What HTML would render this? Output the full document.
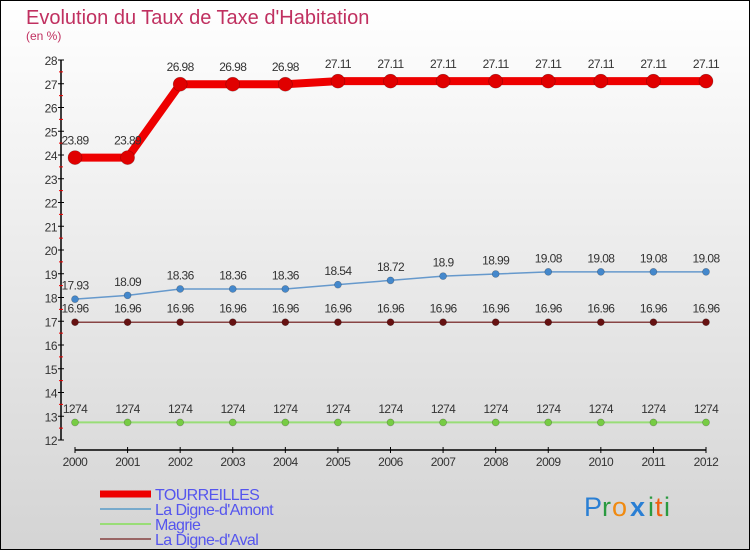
<!DOCTYPE html>
<html><head><meta charset="utf-8">
<style>
html,body{margin:0;padding:0;}
body{width:750px;height:550px;overflow:hidden;font-family:"Liberation Sans",sans-serif;}
</style></head>
<body>
<svg id="chart" width="750" height="550" xmlns="http://www.w3.org/2000/svg">
<defs>
<linearGradient id="bg" x1="0" y1="0" x2="0" y2="1">
<stop offset="0" stop-color="#ffffff"/><stop offset="1" stop-color="#d4d4d4"/>
</linearGradient>
</defs>
<rect x="0.5" y="0.5" width="749" height="549" fill="url(#bg)" stroke="#000"/>
<text x="26" y="24" font-size="20" fill="#c03060">Evolution du Taux de Taxe d'Habitation</text>
<text x="26" y="40" font-size="12" fill="#c03060">(en %)</text>
<g id="axes"></g>
<g id="series"></g>
<g id="legend"></g>
<g font-size="27" font-family="'Liberation Sans',sans-serif">
<text x="584" y="516" fill="#2a7fd4">P</text>
<text x="602" y="516" fill="#2a9a40">r</text>
<text x="612" y="516" fill="#f08a10">o</text>
<text x="630" y="516" fill="#2a7fd4" font-weight="bold">x</text>
<text x="648" y="516" fill="#2a9a40">i</text>
<text x="655" y="516" fill="#f06010">t</text>
<text x="664" y="516" fill="#2a9a40">i</text>
</g>
</svg>
<script>
const years = [2000,2001,2002,2003,2004,2005,2006,2007,2008,2009,2010,2011,2012];
const tourreilles = [23.89,23.89,26.98,26.98,26.98,27.11,27.11,27.11,27.11,27.11,27.11,27.11,27.11];
const digneAmont = [17.93,18.09,18.36,18.36,18.36,18.54,18.72,18.9,18.99,19.08,19.08,19.08,19.08];
const magrie = [12.74,12.74,12.74,12.74,12.74,12.74,12.74,12.74,12.74,12.74,12.74,12.74,12.74];
const digneAval = [16.96,16.96,16.96,16.96,16.96,16.96,16.96,16.96,16.96,16.96,16.96,16.96,16.96];
const yTicks = [12,13,14,15,16,17,18,19,20,21,22,23,24,25,26,27,28];
const seriesNames = ["TOURREILLES","La Digne-d'Amont","Magrie","La Digne-d'Aval"];

const NS="http://www.w3.org/2000/svg";
const yMin=12,yMax=28;
function x(i){return 75+i*(706-75)/(years.length-1);}
function y(v){return 440-(v-yMin)*(440-60)/(yMax-yMin);}
function mk(tag,attrs,parent){const e=document.createElementNS(NS,tag);for(const k in attrs)e.setAttribute(k,attrs[k]);parent.appendChild(e);return e;}
const axes=document.getElementById('axes'),series=document.getElementById('series'),legend=document.getElementById('legend');

let ya=mk('line',{x1:61,y1:60,x2:61,y2:440,stroke:'#000','stroke-width':1.5},axes);


yTicks.forEach(t=>{
  const yy=y(t);
  let l=mk('line',{x1:58,y1:yy,x2:64,y2:yy,stroke:'#000'},axes);
  
  
  let tx=mk('text',{x:57,y:yy+5,'text-anchor':'end','font-size':12,fill:'#333','letter-spacing':'-0.5'},axes);
  tx.textContent=t;
  
  
  if(t<yMax){let m=mk('line',{x1:59,y1:y(t+0.5),x2:63,y2:y(t+0.5),stroke:'#e00'},axes);
  
  }
});
let xa=mk('line',{x1:75,y1:450,x2:706,y2:450,stroke:'#000','stroke-width':1.5},axes);


years.forEach((yr,i)=>{
  let l=mk('line',{x1:x(i),y1:447,x2:x(i),y2:453,stroke:'#000'},axes);
  
  
  let tx=mk('text',{x:x(i),y:466,'text-anchor':'middle','font-size':12,fill:'#333','letter-spacing':'-0.5'},axes);
  tx.textContent=yr;
  
  
});

function drawSeries(vals,color,width,r,ptColor,name,fmt){
  const g=mk('g',{},series);
  
  
  const p=mk('polyline',{points:vals.map((v,i)=>x(i)+','+y(v)).join(' '),fill:'none',stroke:color,'stroke-width':width,'stroke-linejoin':'round'},g);
  
  
  vals.forEach((v,i)=>{
    const c=mk('circle',{cx:x(i),cy:y(v),r:r,fill:ptColor,stroke:'rgba(0,0,0,0.3)','stroke-width':0.6},g);
    
    
    const t=mk('text',{x:x(i),y:y(v)-(r+6),'text-anchor':'middle','font-size':12,fill:'#333','letter-spacing':'-0.6'},g);
    t.textContent=fmt(v);
    
    
  });
}
const f=v=>String(v);
const fm=v=>String(v).replace('.','');
drawSeries(magrie,'#99dd77',2,3.5,'#77cc44','magrie',fm);
drawSeries(digneAval,'#884444',1.5,3.5,'#661111','la-digne-daval',f);
drawSeries(digneAmont,'#6699cc',1.5,3.5,'#4488cc','la-digne-damont',f);
drawSeries(tourreilles,'#ee0000',8,7,'#e00000','tourreilles',f);

const legColors=['#ee0000','#77aacc','#99dd77','#996666'];
const legWidths=[7,2,2,2];
seriesNames.forEach((n,i)=>{
  const yy=494+i*15;
  const g=mk('g',{},legend);
  
  
  mk('line',{x1:100,y1:yy,x2:151,y2:yy,stroke:legColors[i],'stroke-width':legWidths[i]},g);
  const t=mk('text',{x:155,y:yy+6,'font-size':16,fill:'#5555ee','letter-spacing':'-0.6'},g);
  t.textContent=n;
});
</script>
</body></html>
